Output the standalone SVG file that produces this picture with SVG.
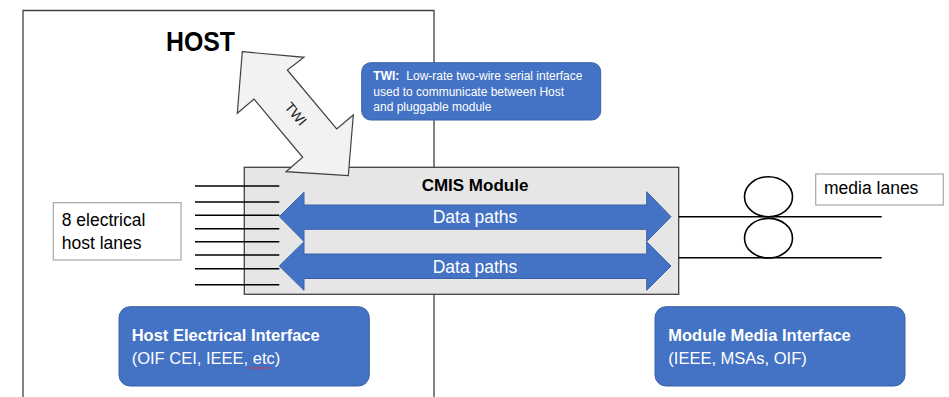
<svg xmlns="http://www.w3.org/2000/svg" width="949" height="397" viewBox="0 0 949 397">
<style>
.t{font-family:"Liberation Sans",Arial,sans-serif}
.b{font-weight:bold}
.w{fill:#ffffff}
.blue{fill:#4472c4;stroke:#3a62a8;stroke-width:1}
.lane{stroke:#000;stroke-width:1.6}
.frame{fill:none;stroke:#404040;stroke-width:1.3}
</style>
<rect width="949" height="397" fill="#ffffff"/>
<g id="host">
<path class="frame" d="M23,400 V10.5 H434 V400"/>
<text class="t b" x="166" y="51" font-size="27" textLength="69" lengthAdjust="spacingAndGlyphs">HOST</text>
</g>
<g id="twi-note">
<rect class="blue" x="361.7" y="62.7" width="239" height="57.3" rx="9"/>
<text class="t w" x="373.3" y="79.5" font-size="12"><tspan font-weight="bold">TWI:</tspan><tspan dx="7">Low-rate two-wire serial interface</tspan></text>
<text class="t w" x="373.3" y="95.5" font-size="12">used to communicate between Host</text>
<text class="t w" x="373.3" y="111" font-size="12">and pluggable module</text>
</g>
<g id="cmis-module">
<rect x="244.3" y="167.3" width="434.4" height="127" fill="#e7e6e6" stroke="#404040" stroke-width="1.3"/>
<text class="t b" x="475" y="190.7" font-size="17" text-anchor="middle">CMIS Module</text>
</g>
<g id="twi-arrow">
<polygon points="242.3,51.7 304,57.3 287.3,70 336.7,129 353.3,115 348.3,175.7 286,171.7 302.7,157.3 254,99 237.3,113.3" fill="#f2f2f2" stroke="#404040" stroke-width="1.2"/>
<text class="t" x="0" y="0" font-size="14" text-anchor="middle" transform="translate(292,117) rotate(50)" fill="#222">TWI</text>
</g>
<g id="connectors">
<g id="host-lanes">
<line class="lane" x1="195" y1="186" x2="279.3" y2="186"/>
<line class="lane" x1="195" y1="202" x2="279.3" y2="202"/>
<line class="lane" x1="195" y1="215.3" x2="279.3" y2="215.3"/>
<line class="lane" x1="195" y1="228.7" x2="279.3" y2="228.7"/>
<line class="lane" x1="195" y1="241.7" x2="279.3" y2="241.7"/>
<line class="lane" x1="195" y1="255" x2="279.3" y2="255"/>
<line class="lane" x1="195" y1="268.7" x2="279.3" y2="268.7"/>
<line class="lane" x1="195" y1="284.7" x2="279.3" y2="284.7"/>
</g>
<g id="media-lanes-lines">
<line class="lane" x1="678.7" y1="216.7" x2="881.7" y2="216.7"/>
<line class="lane" x1="678.7" y1="257.7" x2="881.7" y2="257.7"/>
<ellipse cx="768.5" cy="196.7" rx="24" ry="20" fill="none" stroke="#000" stroke-width="1.6"/>
<ellipse cx="768.5" cy="238.2" rx="24" ry="19.8" fill="none" stroke="#000" stroke-width="1.6"/>
</g>
</g>
<g id="data-path-1">
<polygon class="blue" points="279.3,216.5 304,192.3 304,205 646.7,205 646.7,191.7 671,216.7 646.7,241.5 646.7,229.3 304,229.3 304,241.5"/>
<text class="t w" x="475" y="223.3" font-size="17.5" text-anchor="middle">Data paths</text>
</g>
<g id="data-path-2">
<polygon class="blue" points="279.3,266 304,241.7 304,254 646.7,254 646.7,241.7 671,266 646.7,290.3 646.7,278.5 304,278.5 304,290.3"/>
<text class="t w" x="475" y="272.7" font-size="17.5" text-anchor="middle">Data paths</text>
</g>
<g id="host-lanes-label">
<rect x="53.3" y="202.7" width="127.7" height="57.3" fill="#ffffff" stroke="#a6a6a6" stroke-width="1.2"/>
<text class="t" x="61.7" y="225.7" font-size="17.5">8 electrical</text>
<text class="t" x="61.7" y="249" font-size="17.5">host lanes</text>
</g>
<g id="media-lanes-label">
<rect x="815.7" y="174" width="127.6" height="31" fill="#ffffff" stroke="#a6a6a6" stroke-width="1.2"/>
<text class="t" x="824" y="193.5" font-size="17.5">media lanes</text>
</g>
<g id="host-electrical-interface">
<rect class="blue" x="119" y="306.7" width="250.3" height="79.3" rx="11"/>
<text class="t b w" x="131.7" y="340.7" font-size="16.5">Host Electrical Interface</text>
<text class="t w" x="131.7" y="364" font-size="16.5">(OIF CEI, IEEE, etc)</text>
<path d="M248,368.5 l2,-1 2,1 2,-1 2,1 2,-1 2,1 2,-1 2,1 2,-1 2,1 2,-1" fill="none" stroke="#e03030" stroke-width="0.9"/>
</g>
<g id="module-media-interface">
<rect class="blue" x="655" y="306.7" width="250" height="79.3" rx="11"/>
<text class="t b w" x="668.3" y="340.7" font-size="16.5">Module Media Interface</text>
<text class="t w" x="668.3" y="364" font-size="16.5">(IEEE, MSAs, OIF)</text>
</g>
</svg>
